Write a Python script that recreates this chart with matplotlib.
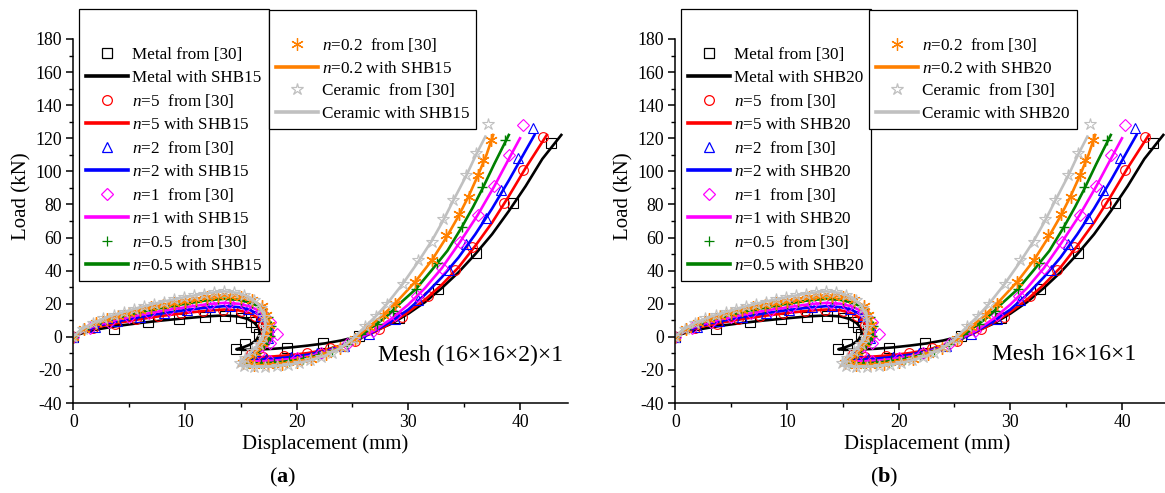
import matplotlib
matplotlib.use("Agg")
import matplotlib.pyplot as plt
from matplotlib.lines import Line2D
from matplotlib.ticker import MultipleLocator

plt.rcParams['font.family'] = ['Liberation Serif', 'DejaVu Serif']
plt.rcParams['mathtext.fontset'] = 'custom'
plt.rcParams['mathtext.rm'] = 'Liberation Serif'
plt.rcParams['mathtext.it'] = 'Liberation Serif:italic'
plt.rcParams['mathtext.bf'] = 'Liberation Serif:bold'
plt.rcParams['axes.unicode_minus'] = False

# ---- data (displacement mm, load kN) ----
# SHB solid-shell curves
metal_line_x = [0, 0.5, 1, 2, 3, 4, 6, 8, 10, 12, 13.5, 14.8, 15.6, 16.2, 16.6, 16.7, 16.4, 15.8, 15.1, 14.6,
                15.2, 16.5, 18, 19.5, 21, 22.5, 24, 25.5, 27, 28.5, 30, 31.5, 33, 34.5, 36, 37.5, 39, 40.5, 42, 43.7]
metal_line_y = [0, 1.5, 2.6, 4.3, 5.5, 6.6, 8.4, 9.9, 11.2, 12.4, 12.9, 12.3, 10.8, 8.5, 5.5, 2.0, -2.0, -4.8, -6.6, -7.5,
                -7.9, -7.7, -7.2, -6.4, -5.3, -4.0, -2.2, 0.3, 3.5, 8.0, 14.0, 21.0, 29.5, 39.0, 50.0, 62.0, 76.0, 91.0, 107.5, 122.0]

n5_line_x = [0, 0.5, 1, 2, 3, 4, 6, 8, 10, 12, 13.5, 14.8, 15.7, 16.4, 16.9, 17.3, 17.4, 17.1, 16.6, 16.0,
             15.6, 15.9, 16.8, 18, 19.5, 21, 22.5, 24, 25.5, 27, 28.5, 30, 31.5, 33, 34.5, 36, 37.5, 39, 40.5, 42.4]
n5_line_y = [0, 1.9, 3.3, 5.5, 7.1, 8.4, 10.7, 12.7, 14.4, 15.8, 16.5, 16.0, 14.5, 12.0, 8.5, 4.5, 0.5, -3.0, -6.5, -9.5,
             -11.2, -12.1, -12.3, -11.8, -11.0, -9.8, -8.0, -5.2, -1.5, 3.0, 8.5, 15.0, 22.5, 31.5, 42.0, 55.0, 69.0, 85.0, 102.0, 122.0]

n2_line_x = [0, 0.5, 1, 2, 3, 4, 6, 8, 10, 12, 13.5, 14.8, 15.8, 16.6, 17.1, 17.5, 17.7, 17.4, 16.8, 16.1,
             15.5, 15.8, 16.8, 18, 19.5, 21, 22.5, 24, 25.5, 27, 28.5, 30, 31.5, 33, 34.5, 36, 37.5, 39, 40.5, 41.3]
n2_line_y = [0, 2.2, 3.7, 6.1, 8.0, 9.4, 12.0, 14.2, 16.1, 17.7, 18.5, 18.0, 16.3, 13.5, 9.5, 5.0, 0.5, -3.5, -7.5, -11.0,
             -12.6, -13.4, -13.6, -13.1, -12.2, -10.8, -8.8, -5.8, -1.5, 3.5, 9.5, 16.5, 25.5, 36.0, 48.0, 62.0, 77.5, 94.5, 112.5, 122.0]

n1_line_x = [0, 0.5, 1, 2, 3, 4, 6, 8, 10, 12, 13.5, 14.8, 15.9, 16.8, 17.3, 17.7, 17.9, 17.5, 16.8, 16.0,
             15.4, 15.7, 16.7, 18, 19.5, 21, 22.5, 24, 25.4, 27, 28.5, 30, 31.5, 33, 34.6, 36.2, 37.7, 39, 40.0]
n1_line_y = [0, 2.5, 4.1, 6.8, 8.8, 10.5, 13.3, 15.8, 17.8, 19.7, 20.5, 20.0, 18.2, 15.0, 10.5, 5.5, 0.0, -4.5, -8.5, -12.0,
             -13.8, -14.7, -14.9, -14.4, -13.4, -11.9, -9.5, -6.0, -1.5, 4.0, 11.0, 19.5, 29.5, 41.5, 57.0, 73.5, 91.0, 107.5, 120.0]

n05_line_x = [0, 0.5, 1, 2, 3, 4, 6, 8, 10, 12, 13.5, 14.8, 16.0, 16.9, 17.4, 17.7, 17.7, 17.3, 16.6, 15.9,
              15.3, 15.6, 16.7, 18, 19.5, 21, 22.5, 24, 25.3, 26.5, 28, 29.3, 30.7, 32, 33.5, 34.8, 35.8, 36.6, 37.7, 39.0]
n05_line_y = [0, 2.8, 4.6, 7.6, 9.9, 11.7, 15.0, 17.7, 20.0, 22.1, 23.0, 22.4, 20.4, 17.0, 12.0, 6.5, 1.0, -4.0, -8.8, -12.7,
              -14.8, -15.8, -16.1, -15.6, -14.5, -12.8, -10.0, -6.5, -1.5, 4.5, 12.0, 20.5, 29.0, 39.5, 52.0, 66.4, 78.5, 89.0, 104.5, 122.0]

n02_line_x = [0, 0.5, 1, 2, 3, 4, 6, 8, 10, 12, 13.5, 14.8, 16.0, 16.9, 17.3, 17.5, 17.4, 17.0, 16.4, 15.7,
              15.1, 15.4, 16.6, 18, 19.5, 21, 22.5, 24, 25.2, 26.2, 27.5, 28.8, 30.6, 32.1, 33.4, 34.5, 35.4, 36.2, 37.0, 37.6]
n02_line_y = [0, 3.0, 5.0, 8.3, 10.8, 12.8, 16.3, 19.3, 21.8, 24.0, 25.0, 24.4, 22.3, 18.5, 13.0, 7.0, 1.5, -4.0, -9.0, -13.2,
              -15.8, -16.9, -17.2, -16.7, -15.5, -13.7, -10.5, -6.5, -1.5, 4.5, 11.8, 20.0, 33.1, 46.2, 60.0, 73.0, 85.0, 97.0, 110.0, 122.0]

cer_line_x = [0, 0.5, 1, 2, 3, 4, 6, 8, 10, 12, 13.5, 14.8, 15.8, 16.6, 17.1, 17.2, 17.0, 16.5, 15.8, 15.1,
              14.9, 15.4, 16.4, 18, 19.5, 21, 22.5, 24, 25.0, 26.1, 27.1, 28.1, 29.5, 30.9, 32.1, 33.1, 34.0, 35.2, 36.1, 36.9]
cer_line_y = [0, 3.3, 5.5, 9.1, 11.8, 14.0, 17.9, 21.2, 24.0, 26.4, 27.5, 26.5, 24.0, 19.5, 13.0, 6.0, 0.0, -5.0, -10.0, -14.5,
              -16.5, -17.8, -18.2, -17.8, -16.6, -14.6, -11.5, -6.5, -1.5, 6.0, 12.5, 20.0, 32.0, 45.5, 58.0, 70.0, 82.0, 97.5, 110.5, 121.0]

# reference points from [30]
metal_pts_x = [0, 3.6, 6.7, 9.5, 11.8, 13.6, 15.0, 15.9, 16.4, 16.6, 15.4, 14.6, 19.1, 22.4, 25.6, 29.2, 32.7, 36.1, 39.4, 42.8]
metal_pts_y = [0, 5.0, 8.8, 10.9, 12.2, 12.8, 11.6, 9.0, 5.8, 1.5, -4.2, -7.3, -6.6, -3.8, 0.6, 11.5, 28.7, 50.7, 80.6, 117.0]

n5_pts_x = [0, 1.8, 3.7, 5.6, 7.6, 9.6, 11.6, 13.4, 15.0, 16.3, 17.0, 17.3, 16.8, 15.9, 17.0, 18.9, 20.9, 23.0, 25.2, 27.4,
            29.4, 31.8, 34.2, 35.7, 38.6, 40.3, 42.1]
n5_pts_y = [0, 5.2, 7.9, 10.5, 12.5, 14.2, 15.6, 16.4, 15.9, 12.4, 7.4, 2.4, -5.0, -10.5, -12.3, -11.3, -9.6, -6.8, -2.3, 4.5,
            12.0, 24.5, 40.2, 54.3, 80.6, 100.8, 121.0]

n2_pts_x = [0, 1.9, 3.9, 6.0, 8.1, 10.2, 12.2, 14.0, 15.6, 16.8, 17.5, 17.4, 16.3, 15.6, 17.3, 19.5, 21.8, 24.2, 26.5, 28.8,
            30.9, 33.6, 35.2, 37.0, 38.3, 39.8, 41.2]
n2_pts_y = [0, 6.0, 9.3, 12.0, 14.3, 16.3, 17.9, 18.5, 16.9, 12.6, 6.0, -1.0, -8.5, -12.7, -13.5, -12.2, -9.8, -5.6, 1.5, 10.8,
            22.0, 40.2, 56.4, 72.1, 88.7, 107.9, 126.0]

n1_pts_x = [0, 1.5, 3.2, 5.0, 6.8, 8.6, 10.4, 12.2, 13.9, 15.5, 16.8, 17.6, 18.2, 17.6, 16.6, 15.6, 17.6, 20.0, 22.2, 24.5,
            26.8, 28.8, 30.8, 33.0, 34.6, 36.2, 37.7, 39.0, 40.3]
n1_pts_y = [0, 5.6, 9.2, 12.0, 14.5, 16.3, 18.1, 19.7, 20.4, 18.9, 15.0, 9.0, 2.0, -4.0, -9.5, -13.6, -14.7, -12.9, -9.7, -4.5,
            3.8, 13.0, 24.5, 41.8, 57.3, 73.5, 91.0, 110.0, 128.0]

n05_pts_x = [0, 1.0, 2.0, 3.0, 4.0, 5.0, 6.0, 7.0, 8.0, 9.0, 10.0, 11.0, 12.0, 13.0, 14.0, 15.0, 16.0, 16.9, 17.4, 17.7,
             17.6, 17.1, 16.4, 15.6, 15.6, 16.8, 18.0, 19.3, 20.6, 21.9, 23.2, 24.5, 25.8, 27.2, 28.6, 30.7, 32.6, 34.8, 36.6, 38.7]
n05_pts_y = [0, 4.6, 7.6, 9.9, 11.7, 13.4, 15.0, 16.4, 17.7, 18.9, 20.0, 21.1, 22.1, 22.8, 22.8, 22.1, 20.4, 17.0, 12.0, 6.5,
             0.5, -4.5, -9.5, -13.0, -15.8, -16.1, -15.6, -14.7, -13.5, -11.3, -8.6, -4.5, 1.5, 8.0, 15.8, 29.0, 44.5, 66.4, 90.7, 119.0]

n02_pts_x = [0, 1.0, 2.0, 3.0, 4.0, 5.0, 6.0, 7.0, 8.0, 9.0, 10.0, 11.0, 12.0, 13.0, 14.0, 15.0, 16.0, 16.9, 17.3, 17.5,
             17.3, 16.9, 16.3, 15.6, 15.2, 16.2, 17.4, 18.7, 20.0, 21.3, 22.6, 23.9, 25.2, 26.5, 27.7, 28.8, 30.6, 32.1, 33.4, 34.5,
             35.4, 36.2, 36.7, 37.4]
n02_pts_y = [0, 5.0, 8.3, 10.8, 12.8, 14.6, 16.3, 17.8, 19.3, 20.6, 21.8, 22.9, 24.0, 24.8, 24.9, 23.9, 22.3, 18.5, 13.0, 7.0,
             1.5, -4.0, -9.0, -13.5, -15.8, -17.1, -17.0, -16.4, -15.2, -13.6, -10.3, -6.7, -1.5, 6.2, 13.0, 20.0, 33.1, 46.2, 61.4, 74.5,
             84.6, 97.8, 106.8, 119.0]

cer_pts_x = [0, 0.9, 1.8, 2.7, 3.6, 4.5, 5.4, 6.3, 7.2, 8.1, 9.0, 9.9, 10.8, 11.7, 12.6, 13.5, 14.4, 15.3, 16.2, 16.8,
             17.1, 17.2, 17.0, 16.6, 16.0, 15.4, 14.9, 15.3, 16.2, 17.2, 18.2, 19.2, 20.2, 21.2, 22.2, 23.2, 24.2, 25.1, 26.1, 27.1,
             28.1, 29.5, 30.9, 32.1, 33.1, 34.0, 35.2, 36.1, 37.1]
cer_pts_y = [0, 5.0, 8.5, 11.1, 13.2, 15.1, 16.8, 18.4, 19.9, 21.3, 22.6, 23.9, 25.0, 26.0, 26.9, 27.5, 27.3, 25.5, 22.0, 17.5,
             12.0, 6.0, 0.0, -4.5, -8.5, -12.5, -16.0, -17.7, -18.2, -18.2, -17.8, -17.1, -16.0, -14.3, -12.3, -9.8, -6.0, -1.5, 6.8, 12.5,
             20.0, 32.1, 46.2, 57.3, 71.5, 82.6, 97.8, 110.9, 128.7]

series_names = ['Metal', '$n$=5', '$n$=2', '$n$=1', '$n$=0.5', '$n$=0.2', 'Ceramic']
from_labels = ['Metal from [30]', '$n$=5  from [30]', '$n$=2  from [30]', '$n$=1  from [30]',
               '$n$=0.5  from [30]', '$n$=0.2  from [30]', 'Ceramic  from [30]']
colors = ['#000000', '#FF0000', '#0000FF', '#FF00FF', '#008000', '#FF8000', '#C0C0C0']
markers = ['s', 'o', '^', 'D', '+', (6, 2, 0), '*']
msizes = [6.5, 7, 7, 6.5, 7, 9, 9]

lines_x = [metal_line_x, n5_line_x, n2_line_x, n1_line_x, n05_line_x, n02_line_x, cer_line_x]
lines_y = [metal_line_y, n5_line_y, n2_line_y, n1_line_y, n05_line_y, n02_line_y, cer_line_y]
pts_x = [metal_pts_x, n5_pts_x, n2_pts_x, n1_pts_x, n05_pts_x, n02_pts_x, cer_pts_x]
pts_y = [metal_pts_y, n5_pts_y, n2_pts_y, n1_pts_y, n05_pts_y, n02_pts_y, cer_pts_y]

panels = [
    {'shb': 'SHB15', 'mesh': 'Mesh (16×16×2)×1', 'mesh_x': 43.9, 'mesh_y': -11.5, 'tag': 'a', 'left': 73.3},
    {'shb': 'SHB20', 'mesh': 'Mesh 16×16×1', 'mesh_x': 41.3, 'mesh_y': -10.5, 'tag': 'b', 'left': 675.3},
]

W, H = 1165, 493
fig = plt.figure(figsize=(W / 100, H / 100), dpi=100)

FS = 12.3
for p in panels:
    ax = fig.add_axes([p['left'] / W, 90 / H, 494.7 / W, 364 / H])

    for i in range(7):
        is_plus = markers[i] == '+' or isinstance(markers[i], tuple)
        ax.plot(pts_x[i], pts_y[i], ls='none', marker=markers[i], ms=msizes[i],
                mfc='none', mec=colors[i], mew=1.0 if is_plus else 0.8)
        ax.plot(lines_x[i], lines_y[i], color=colors[i], lw=1.9)

    ax.set_xlim(0, 44.3)
    ax.set_ylim(-40, 180)
    ax.xaxis.set_major_locator(MultipleLocator(10))
    ax.xaxis.set_minor_locator(MultipleLocator(5))
    ax.yaxis.set_major_locator(MultipleLocator(20))
    ax.yaxis.set_minor_locator(MultipleLocator(10))
    ax.spines['top'].set_visible(False)
    ax.spines['right'].set_visible(False)
    for s in ['left', 'bottom']:
        ax.spines[s].set_linewidth(1.1)
    ax.tick_params(which='major', direction='out', length=5, width=1.1, labelsize=12.8, pad=3)
    ax.tick_params(which='minor', direction='out', length=3, width=1.0)

    ax.set_xlabel('Displacement (mm)', fontsize=15)
    ax.set_ylabel('Load (kN)', fontsize=15)
    ax.xaxis.set_label_coords(0.509, -0.085)
    ax.yaxis.set_label_coords(-0.085, 0.569)

    ax.text(p['mesh_x'], p['mesh_y'], p['mesh'], ha='right', va='center', fontsize=17)
    ax.text(0.423, -0.206, '($\\mathbf{' + p['tag'] + '}$)', transform=ax.transAxes,
            ha='center', va='center', fontsize=16)

    handles, labels = [], []
    for i in range(7):
        handles.append(Line2D([], [], ls='none', marker=markers[i], ms=msizes[i], mfc='none',
                              mec=colors[i], mew=0.9))
        labels.append(from_labels[i])
        handles.append(Line2D([], [], color=colors[i], lw=2.6))
        labels.append(series_names[i] + ' with ' + p['shb'])

    common = dict(loc='upper left', bbox_transform=ax.transAxes, frameon=True, fancybox=False,
                  edgecolor='black', framealpha=1, fontsize=FS, handlelength=2.45,
                  handletextpad=0.25, borderpad=0.4, labelspacing=0.38, borderaxespad=0,
                  numpoints=1)
    leg1 = ax.legend(handles[:10], labels[:10], bbox_to_anchor=(0.0115, 1.0824),
                     title=' ', title_fontsize=19.5, **common)
    leg1.get_frame().set_linewidth(0.9)
    ax.add_artist(leg1)
    x2 = 0.396 if p['tag'] == 'a' else 0.392
    leg2 = ax.legend(handles[10:], labels[10:], bbox_to_anchor=(x2, 1.0797),
                     title=' ', title_fontsize=11, **common)
    leg2.get_frame().set_linewidth(0.9)

fig.savefig('out.png', dpi=100)
